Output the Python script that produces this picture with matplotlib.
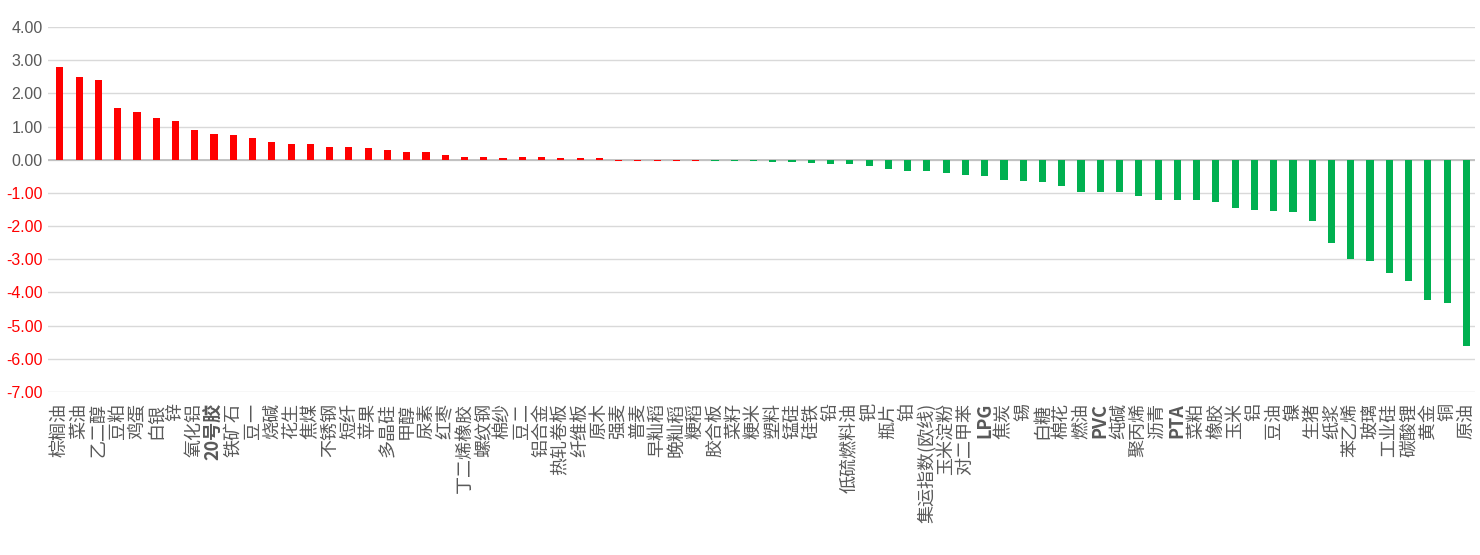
import matplotlib.pyplot as plt
import numpy as np

# Data
names = ["棕榈油", "菜油", "乙二醇", "豆粕", "鸡蛋", "白银", "锌", "氧化铝", "20号胶", "铁矿石",
         "豆一", "烧碱", "花生", "焦煤", "不锈钢", "短纤", "苹果", "多晶硅", "甲醇", "尿素",
         "红枣", "丁二烯橡胶", "螺纹钢", "棉纱", "豆二", "铝合金", "热轧卷板", "纤维板", "原木", "强麦",
         "普麦", "早籼稻", "晚籼稻", "粳稻", "胶合板", "菜籽", "粳米", "塑料", "锰硅", "硅铁",
         "铅", "低硫燃料油", "钯", "瓶片", "铂", "集运指数(欧线)", "玉米淀粉", "对二甲苯", "LPG", "焦炭",
         "锡", "白糖", "棉花", "燃油", "PVC", "纯碱", "聚丙烯", "沥青", "PTA", "菜粕",
         "橡胶", "玉米", "铝", "豆油", "镍", "生猪", "纸浆", "苯乙烯", "玻璃", "工业硅",
         "碳酸锂", "黄金", "铜", "原油"]
changes = [2.80, 2.50, 2.41, 1.55, 1.45, 1.25, 1.18, 0.91, 0.78, 0.75,
           0.64, 0.54, 0.48, 0.48, 0.37, 0.37, 0.34, 0.30, 0.24, 0.24,
           0.13, 0.07, 0.07, 0.04, 0.07, 0.07, 0.04, 0.04, 0.04, -0.03,
           -0.03, -0.03, -0.03, -0.03, -0.04, -0.04, -0.04, -0.08, -0.08, -0.10,
           -0.13, -0.13, -0.19, -0.28, -0.34, -0.34, -0.40, -0.46, -0.49, -0.61,
           -0.64, -0.67, -0.79, -0.97, -0.97, -0.97, -1.09, -1.21, -1.21, -1.21,
           -1.28, -1.46, -1.52, -1.55, -1.58, -1.85, -2.51, -2.99, -3.05, -3.41,
           -3.65, -4.23, -4.32, -5.61]
yticks = [4, 3, 2, 1, 0, -1, -2, -3, -4, -5, -6, -7]

RED = "#ff0000"
GREY = "#595959"
GREEN = "#00b050"
CJK = ["Noto Sans CJK SC", "DejaVu Sans"]

x = np.arange(len(names))
# tiny dips down to -0.03 are still shown in red in the source
colors = [RED if v > -0.035 else GREEN for v in changes]

fig = plt.figure(figsize=(14.8, 5.55), dpi=100)
ax = fig.add_axes([0.0324, 0.2937, 0.9645, 0.6577])

ax.bar(x, changes, width=0.37, color=colors, zorder=3)

ax.set_xlim(-0.62, len(names) - 0.53)
ax.set_ylim(-7, 4)
ax.set_yticks(yticks)
ax.set_yticklabels(["%.2f" % v for v in yticks], family="Liberation Sans", fontsize=11.5)
for lbl, v in zip(ax.get_yticklabels(), yticks):
    lbl.set_color(RED if v < 0 else GREY)

ax.set_xticks(x)
ax.set_xticklabels(names, rotation=90, family=CJK, fontsize=13, color=GREY, va="top")
# latin codes (LPG, PVC, PTA, 20号胶) are bold in the source
for lbl in ax.get_xticklabels():
    if any(c.isascii() and c.isalnum() for c in lbl.get_text()):
        lbl.set_fontweight("bold")

ax.grid(axis="y", color="#d9d9d9", linewidth=1, zorder=0)
ax.axhline(0, color="#bfbfbf", linewidth=1.3, zorder=2)
for s in ax.spines.values():
    s.set_visible(False)
ax.tick_params(length=0)
ax.tick_params(axis="y", pad=4)
ax.tick_params(axis="x", pad=8)

fig.savefig("out.png", dpi=100)
